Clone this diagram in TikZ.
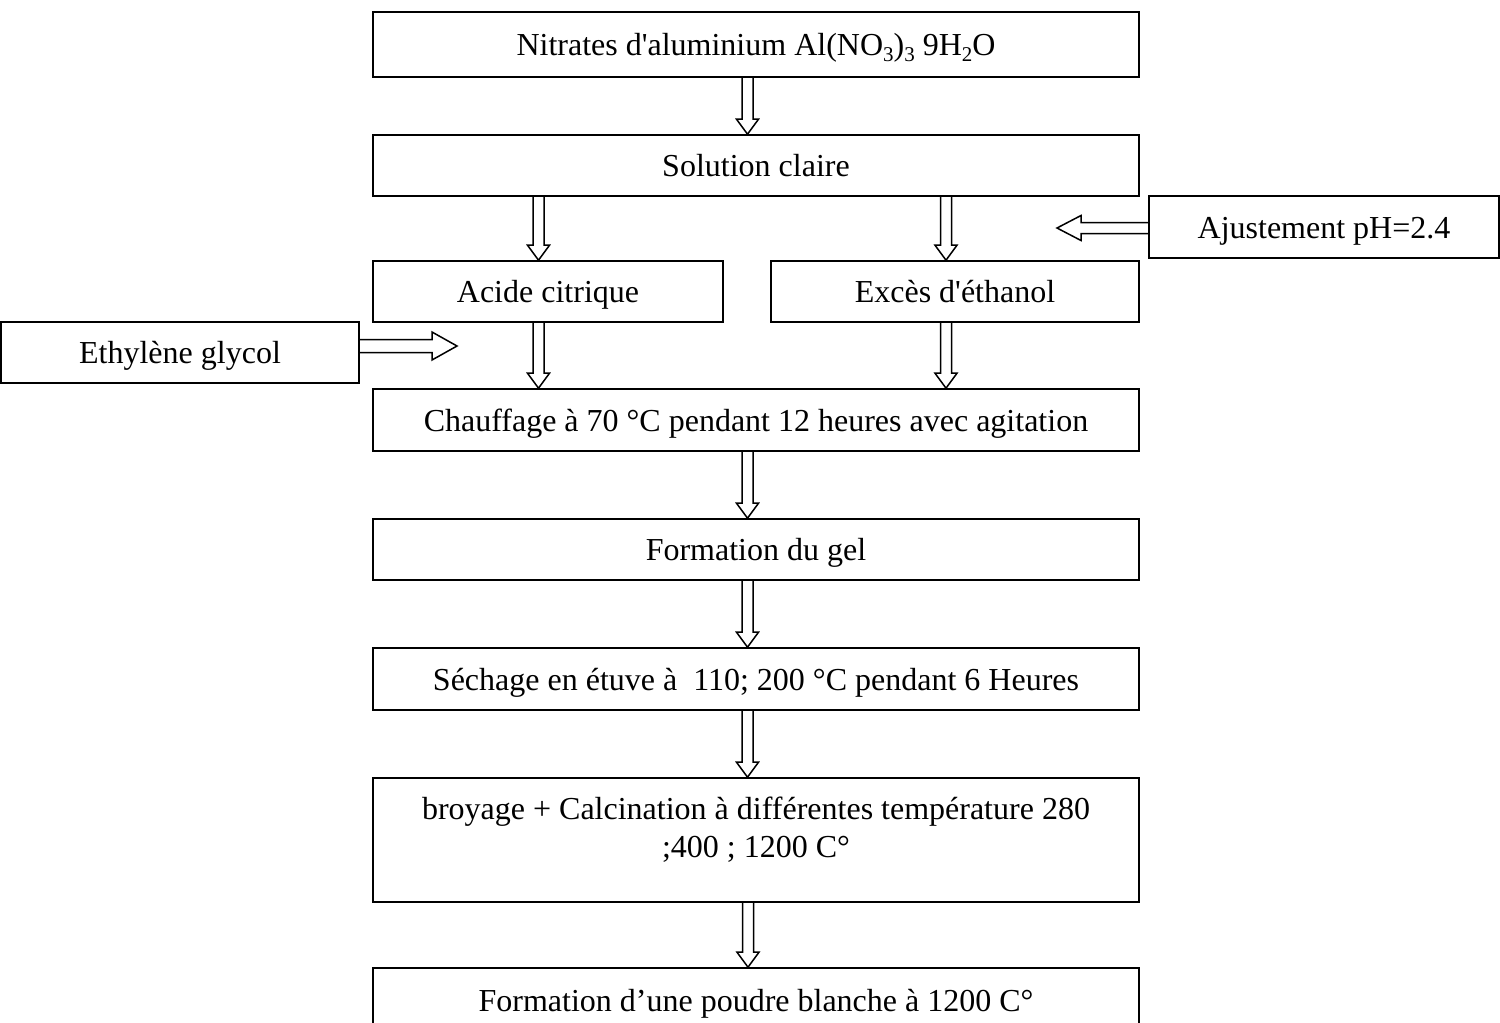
\documentclass[tikz,border=0pt]{standalone}
\usepackage{fontspec}
\setmainfont{Liberation Serif}
\usetikzlibrary{calc}
\tikzset{
  box/.style={draw, line width=1.6pt, rectangle, inner sep=0pt, align=center,
    text height=28pt, text depth=6pt,
    font=\fontsize{32}{38}\selectfont},
  txt/.style={inner sep=0pt, align=center, font=\fontsize{32}{38}\selectfont},
  fat/.style={draw, line width=1.5pt, line join=miter},
  fatdown/.style={fat, to path={let \p1=(\tikztostart), \p2=(\tikztotarget) in
    (\x1-5.5pt,\y1) -- (\x1-5.5pt,\y2+15pt) -- (\x1-11pt,\y2+15pt) -- (\x1,\y2)
    -- (\x1+11pt,\y2+15pt) -- (\x1+5.5pt,\y2+15pt) -- (\x1+5.5pt,\y1)}},
  fatleft/.style={fat, to path={let \p1=(\tikztostart), \p2=(\tikztotarget) in
    (\x1,\y1+5.5pt) -- (\x2+24pt,\y1+5.5pt) -- (\x2+24pt,\y1+12.5pt) -- (\x2,\y1)
    -- (\x2+24pt,\y1-12.5pt) -- (\x2+24pt,\y1-5.5pt) -- (\x1,\y1-5.5pt)}},
  fatright/.style={fat, to path={let \p1=(\tikztostart), \p2=(\tikztotarget) in
    (\x1,\y1+6.5pt) -- (\x2-25pt,\y1+6.5pt) -- (\x2-25pt,\y1+14pt) -- (\x2,\y1)
    -- (\x2-25pt,\y1-14pt) -- (\x2-25pt,\y1-6.5pt) -- (\x1,\y1-6.5pt)}},
}
\newcommand{\sbs}[1]{\raisebox{-0.18em}{\fontsize{21}{21}\selectfont #1}}
\begin{document}
\begin{tikzpicture}[x=1pt,y=-1pt]
\useasboundingbox (0,0) rectangle (1500,1023);
\clip (0,0) rectangle (1500,1023);

\node[box, minimum width=766pt, minimum height=65pt] (nitr) at (756,44.5)
  {Nitrates d\textquotesingle aluminium Al(NO\sbs{3})\sbs{3} 9H\sbs{2}O};
\node[box, minimum width=766pt, minimum height=61pt] (sol) at (756,165.5) {Solution claire};
\node[box, minimum width=350pt, minimum height=61pt] (acide) at (548,291.5) {Acide citrique};
\node[box, minimum width=368pt, minimum height=61pt] (exces) at (955,291.5) {Excès d\textquotesingle éthanol};
\node[box, minimum width=350pt, minimum height=62pt] (ajust) at (1324,227) {Ajustement pH=2.4};
\node[box, minimum width=358pt, minimum height=61pt] (ety) at (180,352.5) {Ethylène glycol};
\node[box, minimum width=766pt, minimum height=62pt] (chauf) at (756,420)
  {Chauffage à 70 °C pendant 12 heures avec agitation};
\node[box, minimum width=766pt, minimum height=61pt] (gel) at (756,549.5) {Formation du gel};
\node[box, minimum width=766pt, minimum height=62pt] (sech) at (756,679)
  {Séchage en étuve à\ \ 110; 200 °C pendant 6 Heures};
\node[box, minimum width=766pt, minimum height=124pt] (broy) at (756,840) {};
\node[txt] (broyt) at (756,830)
  {broyage + Calcination à différentes température 280\\;400 ; 1200 C°};
\node[box, minimum width=766pt, minimum height=64pt] (poudre) at (756,1000)
  {Formation d’une poudre blanche à 1200 C°};

\coordinate (ajtip) at (1057,228);
\coordinate (etytip) at (457,346);

\draw[fatdown] ([xshift=-8.5pt]nitr.south) to (sol.north);
\draw[fatdown] ([xshift=-217.5pt]sol.south) to (acide.north);
\draw[fatdown] ([xshift=190pt]sol.south) to (exces.north);
\draw[fatdown] ([xshift=-9.5pt]acide.south) to (chauf.north);
\draw[fatdown] ([xshift=-9pt]exces.south) to (chauf.north);
\draw[fatdown] ([xshift=-8.5pt]chauf.south) to (gel.north);
\draw[fatdown] ([xshift=-8.5pt]gel.south) to (sech.north);
\draw[fatdown] ([xshift=-8.5pt]sech.south) to (broy.north);
\draw[fatdown] ([xshift=-8pt]broy.south) to (poudre.north);
\draw[fatleft] ([yshift=-1pt]ajust.west) to (ajtip);
\draw[fatright] ([yshift=6.5pt]ety.east) to (etytip);
\end{tikzpicture}
\end{document}
